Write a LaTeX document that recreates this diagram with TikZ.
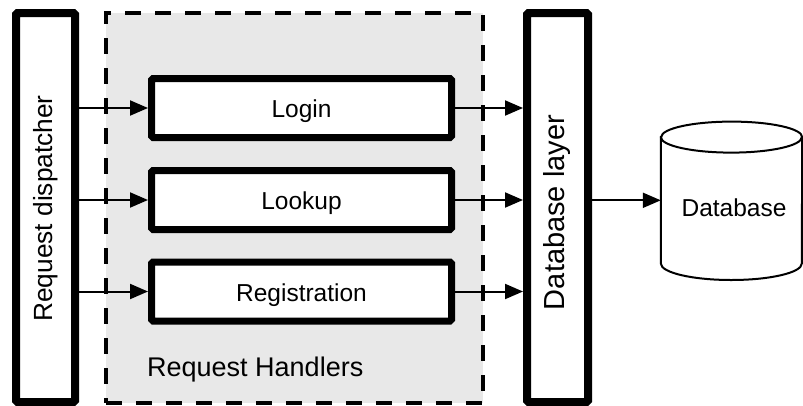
\documentclass[tikz,border=0pt]{standalone}
\usepackage{fontspec}
\setmainfont{Liberation Sans}
\usetikzlibrary{arrows.meta}
\begin{document}
\begin{tikzpicture}[x=1pt,y=-1pt,
  heavybox/.style={draw, line width=8pt, fill=white, rounded corners=1.5pt, inner sep=0pt},
  handler/.style={draw, line width=7pt, fill=white, rounded corners=1.5pt,
    minimum width=300pt, minimum height=59pt, inner sep=0pt,
    text height=19pt, text depth=0pt, font=\fontsize{24.5}{29}\selectfont},
  arr/.style={line width=2pt, -{Triangle[length=18pt,width=15pt]}},
  lbl/.style={inner sep=0pt}]
\useasboundingbox (0,0) rectangle (803,405);

% dashed container of the handlers
\node[draw, line width=4pt, dash pattern=on 16pt off 14pt, fill=black!9,
  minimum width=377.5pt, minimum height=390pt, inner sep=0pt] (region) at (294.5,208) {};

% dispatcher and database layer
\node[heavybox, minimum width=59pt, minimum height=389pt] (disp) at (45.5,207.5) {};
\node[lbl, rotate=90, font=\fontsize{26.3}{30}\selectfont] (displbl) at (45.5,208.5) {Request dispatcher};
\node[heavybox, minimum width=61pt, minimum height=389pt] (dbl) at (557.5,207.5) {};
\node[lbl, rotate=90, font=\fontsize{29}{33}\selectfont] (dbllbl) at (557,212.5) {Database layer};

% handlers
\node[handler] (login) at (301.5,108) {Login};
\node[handler] (lookup) at (301.5,200) {Lookup};
\node[handler] (reg) at (301.5,291.5) {Registration};

\node[lbl, anchor=base west, font=\fontsize{27}{31}\selectfont] (rh) at (147,376) {Request Handlers};

% database cylinder
\node[inner sep=0pt, minimum width=141pt, minimum height=126pt] (db) at (731.5,200.3) {};
\draw[line width=2pt, fill=white]
  (db.north west) -- (db.south west) arc[start angle=180, end angle=360, x radius=70.5pt, y radius=16.5pt]
  -- (db.north east) arc[start angle=0, end angle=180, x radius=70.5pt, y radius=15.5pt] -- cycle;
\draw[line width=2pt] (db.north west) arc[start angle=180, end angle=360, x radius=70.5pt, y radius=15.5pt];
\node[lbl, anchor=base, font=\fontsize{24.5}{29}\selectfont] (dblbl) at (734,216) {Database};

% connectors
\foreach \h in {login,lookup,reg}{
  \draw[arr] (disp.east |- \h.west) -- (\h.west);
  \draw[arr] (\h.east) -- (\h.east -| dbl.west);
}
\draw[arr] (dbl.east |- db.west) -- (db.west);
\end{tikzpicture}
\end{document}
